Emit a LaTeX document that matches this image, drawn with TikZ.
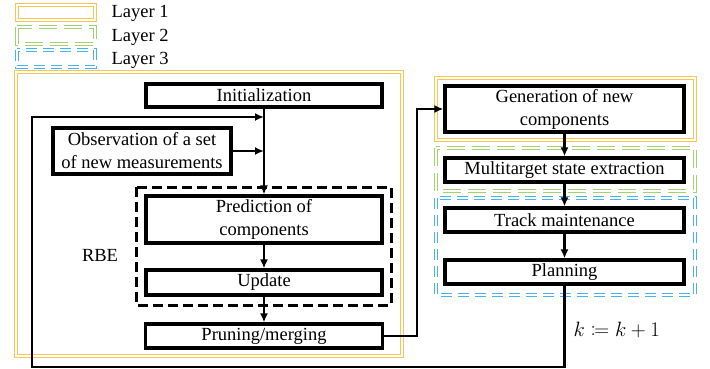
\documentclass[tikz,border=0pt]{standalone}
\usepackage{fontspec}
\setmainfont{Liberation Serif}
\usepackage{mathtools}
\usetikzlibrary{arrows.meta}

\definecolor{layerorange}{RGB}{252,196,80}
\definecolor{layergreen}{RGB}{160,210,110}
\definecolor{layerblue}{RGB}{70,180,240}

\begin{document}
\begin{tikzpicture}[x=1pt, y=-1pt,
    font=\fontsize{18.5}{23}\selectfont,
    box/.style={draw, line width=3.2pt, inner sep=0pt, align=center},
    arr/.style={line width=2.4pt, -{Latex[length=9pt,width=8pt]}},
    layerone/.style={draw=layerorange, line width=0.9pt, double=white, double distance=1.6pt},
    layertwo/.style={draw=layergreen, line width=0.9pt, double=white, double distance=1.6pt, dash pattern=on 18pt off 7pt},
    layerthree/.style={draw=layerblue, line width=0.9pt, double=white, double distance=1.6pt, dash pattern=on 11pt off 6pt}]

  \useasboundingbox (0,0) rectangle (710,369);

%Legend
  \draw[layerone]   (17,5)  rectangle (95,20);
  \draw[layertwo]   (17,27) rectangle (95,44);
  \draw[layerthree] (17,50) rectangle (95,67);
  \node[anchor=west] at (108,13) (l1) {Layer 1};
  \node[anchor=west] at (108,37) (l2) {Layer 2};
  \node[anchor=west] at (108,60) (l3) {Layer 3};

%Layer frames
  \draw[layerone]   (16,72)  rectangle (402,356);
  \draw[layerone]   (436,78) rectangle (695,140);
  \draw[layertwo]   (436,148) rectangle (695,191);
  \draw[layerthree] (436,198) rectangle (695,295);
  \draw[line width=3pt, dash pattern=on 10pt off 5pt] (136,187) rectangle (391,305);

%Left column
  \node[box, minimum width=236pt, minimum height=23pt] at (264,95.5)  (init) {Initialization};
  \node[box, minimum width=178pt, minimum height=46pt] at (142,151)   (obs)  {Observation of a set\\of new measurements};
  \node[box, minimum width=236pt, minimum height=47pt] at (264,219.5) (pred) {Prediction of\\components};
  \node[box, minimum width=236pt, minimum height=25pt] at (264,282.5) (upd)  {Update};
  \node[box, minimum width=237pt, minimum height=24pt] at (264,336)   (prun) {Pruning/merging};
  \node[] at (100,255) (rbe) {RBE};

%Right column
  \node[box, minimum width=239pt, minimum height=46pt] at (564.5,109) (gen)   {Generation of new\\components};
  \node[box, minimum width=239pt, minimum height=24pt] at (564.5,170) (multi) {Multitarget state extraction};
  \node[box, minimum width=239pt, minimum height=24pt] at (564.5,220) (track) {Track maintenance};
  \node[box, minimum width=239pt, minimum height=24pt] at (564.5,272) (plan)  {Planning};
  \node[anchor=west, font=\fontsize{21}{24}\selectfont] at (570,330) (kk) {$k \coloneqq k+1$};

  \coordinate (loopbl) at (32,367);
  \coordinate (joinA)  at (264,117);
  \coordinate (turn)   at (417,336);

  \draw [arr] (init.south) to (pred.north);
  \draw [arr] (obs.east) to (obs.east -| init.south);
  \draw [arr] (pred.south) to (upd.north);
  \draw [arr] (upd.south) to (prun.north);
  \draw [arr] (prun.east) -| (turn |- gen.west) -- (gen.west);
  \draw [arr] (gen.south) to (multi.north);
  \draw [arr] (multi.south) to (track.north);
  \draw [arr] (track.south) to (plan.north);
  \draw [arr] (plan.south) |- (loopbl) |- (joinA);

  \end{tikzpicture}
\end{document}
